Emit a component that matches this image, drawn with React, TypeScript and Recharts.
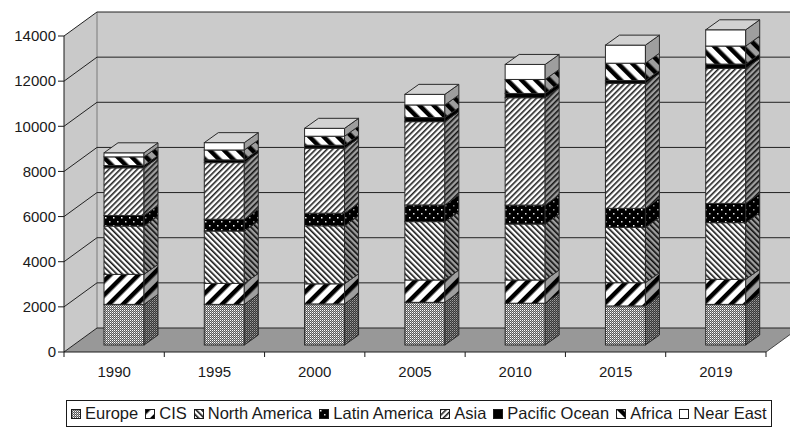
import React from 'react';
import { BarChart, Bar, XAxis, YAxis, CartesianGrid, Legend } from 'recharts';

// categories
const years = ['1990', '1995', '2000', '2005', '2010', '2015', '2019'];

// series values (stacked bottom to top)
const europe = [1800, 1800, 1820, 1890, 1850, 1730, 1800];
const cis = [1330, 930, 890, 990, 1030, 1030, 1110];
const northAmerica = [2140, 2320, 2570, 2585, 2480, 2455, 2510];
const latinAmerica = [470, 520, 560, 740, 840, 840, 855];
const asia = [2110, 2510, 2880, 3690, 4755, 5540, 5980];
const pacificOcean = [100, 120, 130, 180, 190, 120, 190];
const africa = [385, 440, 400, 560, 620, 770, 800];
const nearEast = [180, 325, 350, 470, 665, 800, 720];

const seriesNames = ['Europe', 'CIS', 'North America', 'Latin America', 'Asia', 'Pacific Ocean', 'Africa', 'Near East'];
const seriesValues = [europe, cis, northAmerica, latinAmerica, asia, pacificOcean, africa, nearEast];
const patternIds = ['pEurope', 'pCis', 'pNa', 'pLatam', 'pAsia', 'pPacific', 'pAfrica', 'pNearEast'];

const yTicks = [0, 2000, 4000, 6000, 8000, 10000, 12000, 14000];

const data = years.map((year, i) => {
  const row: Record<string, string | number> = { year };
  seriesNames.forEach((name, s) => {
    row[name] = seriesValues[s][i];
  });
  return row;
});

// geometry of the fake 3D box (chart is 790x430, plot area fixed by margins)
const W = 790;
const H = 430;
const PLOT_LEFT = 64;
const PLOT_TOP = 36;
const PLOT_RIGHT = 766;
const PLOT_BOTTOM = 352;
const BAND = (PLOT_RIGHT - PLOT_LEFT) / years.length;
const WALL_DX = 33; // depth offset of the back wall
const WALL_DY = -24;
const BAR_DX = 10; // bars stand a bit inside the floor
const BAR_DY = -7;
const SIDE_DX = 14; // bar depth
const SIDE_DY = -10;

const FONT = '"Liberation Sans", Arial, sans-serif';
const INK = '#1a1a1a';

const Patterns = () => (
  <defs>
    <pattern id="pEurope" width="2" height="2" patternUnits="userSpaceOnUse">
      <rect width="2" height="2" fill="#5a5a5a" />
      <rect x="0" y="0" width="1" height="1" fill="#fff" />
      <rect x="1" y="1" width="1" height="1" fill="#a8a8a8" />
    </pattern>
    <pattern id="pCis" width="10" height="10" patternUnits="userSpaceOnUse" patternTransform="rotate(45)">
      <rect width="10" height="10" fill="#fff" />
      <rect width="4.5" height="10" fill="#000" />
    </pattern>
    <pattern id="pNa" width="4" height="4" patternUnits="userSpaceOnUse" patternTransform="rotate(-45)">
      <rect width="4" height="4" fill="#fff" />
      <rect width="1.6" height="4" fill="#111" />
    </pattern>
    <pattern id="pLatam" width="8" height="8" patternUnits="userSpaceOnUse">
      <rect width="8" height="8" fill="#000" />
      <rect x="1" y="1" width="1.5" height="1.5" fill="#fff" />
      <rect x="5" y="5" width="1.5" height="1.5" fill="#ddd" />
    </pattern>
    <pattern id="pAsia" width="4" height="4" patternUnits="userSpaceOnUse" patternTransform="rotate(45)">
      <rect width="4" height="4" fill="#fff" />
      <rect width="1.6" height="4" fill="#222" />
    </pattern>
    <pattern id="pPacific" width="4" height="4" patternUnits="userSpaceOnUse">
      <rect width="4" height="4" fill="#000" />
    </pattern>
    <pattern id="pAfrica" width="10" height="10" patternUnits="userSpaceOnUse" patternTransform="rotate(-45)">
      <rect width="10" height="10" fill="#fff" />
      <rect width="4.5" height="10" fill="#000" />
    </pattern>
    <pattern id="pNearEast" width="4" height="4" patternUnits="userSpaceOnUse">
      <rect width="4" height="4" fill="#fff" />
    </pattern>
  </defs>
);

// one stacked segment drawn as a box: front face, side face, and the lid for the top series
const Box3D = (props: any) => {
  const { x, y, width, height, fillId, isTop } = props;
  if (!height) return null;
  const fx = x + BAR_DX;
  const fy = y + BAR_DY;
  const side = `${fx + width},${fy} ${fx + width + SIDE_DX},${fy + SIDE_DY} ${fx + width + SIDE_DX},${fy + height + SIDE_DY} ${fx + width},${fy + height}`;
  const lid = `${fx},${fy} ${fx + SIDE_DX},${fy + SIDE_DY} ${fx + width + SIDE_DX},${fy + SIDE_DY} ${fx + width},${fy}`;
  return (
    <g>
      <rect x={fx} y={fy} width={width} height={height} fill={`url(#${fillId})`} stroke="#2a2a2a" strokeWidth={1} />
      <polygon points={side} fill={`url(#${fillId})`} />
      <polygon points={side} fill="#000" fillOpacity={0.38} stroke="#2a2a2a" strokeWidth={1} />
      {isTop && <polygon points={lid} fill="#d2d2d2" stroke="#2a2a2a" strokeWidth={1} />}
    </g>
  );
};

// grid line: diagonal on the side wall, then across the back wall
const GridLine = (props: any) => {
  const { x1, y1, x2 } = props;
  return (
    <g key={props.key}>
      <line x1={x1} y1={y1} x2={x1 + WALL_DX} y2={y1 + WALL_DY} stroke="#222" strokeWidth={1} />
      <line x1={x1 + WALL_DX} y1={y1 + WALL_DY} x2={x2 + WALL_DX} y2={y1 + WALL_DY} stroke="#222" strokeWidth={1} />
    </g>
  );
};

const XTick = (props: any) => {
  const { x, y, payload, index } = props;
  return (
    <g>
      <text x={x} y={y} dy="0.71em" textAnchor="middle" fill={INK} fontSize={15} fontFamily={FONT}>
        {payload.value}
      </text>
      <line x1={x + BAND / 2} y1={PLOT_BOTTOM} x2={x + BAND / 2} y2={PLOT_BOTTOM + 5} stroke={INK} />
      {index === 0 && <line x1={x - BAND / 2} y1={PLOT_BOTTOM} x2={x - BAND / 2} y2={PLOT_BOTTOM + 5} stroke={INK} />}
    </g>
  );
};

const LegendBox = () => (
  <div
    style={{
      display: 'inline-flex',
      alignItems: 'center',
      height: 25,
      border: `1px solid ${INK}`,
      padding: '0 4px',
      fontFamily: FONT,
      fontSize: 16.5,
      color: INK,
      whiteSpace: 'nowrap',
      background: '#fff',
    }}
  >
    {seriesNames.map((name, i) => (
      <span key={name} style={{ display: 'inline-flex', alignItems: 'center', marginRight: i < seriesNames.length - 1 ? 7 : 0 }}>
        <svg width={10} height={10} style={{ marginRight: 4 }}>
          <rect x={0.5} y={0.5} width={9} height={9} fill={`url(#${patternIds[i]})`} stroke={INK} strokeWidth={1} />
        </svg>
        {name}
      </span>
    ))}
  </div>
);

// walls and floor behind the chart
const Walls = () => {
  const bx = PLOT_LEFT + WALL_DX;
  const by = PLOT_TOP + WALL_DY;
  const bb = PLOT_BOTTOM + WALL_DY;
  const br = PLOT_RIGHT + WALL_DX;
  return (
    <svg width={W} height={H} style={{ position: 'absolute', left: 0, top: 0 }}>
      <polygon points={`${PLOT_LEFT},${PLOT_TOP} ${bx},${by} ${bx},${bb} ${PLOT_LEFT},${PLOT_BOTTOM}`} fill="#c9c9c9" />
      <rect x={bx} y={by} width={br - bx} height={bb - by} fill="#cbcbcb" />
      <polygon points={`${PLOT_LEFT},${PLOT_BOTTOM} ${bx},${bb} ${br},${bb} ${PLOT_RIGHT},${PLOT_BOTTOM}`} fill="#989898" />
      <line x1={bx} y1={by} x2={bx} y2={bb} stroke="#7a7a7a" />
      <line x1={PLOT_RIGHT} y1={PLOT_BOTTOM} x2={br} y2={bb} stroke="#444" />
    </svg>
  );
};

const App: React.FC = () => {
  return (
    <div style={{ position: 'absolute', left: 0, top: 0, width: W, height: H, background: '#fff' }}>
      <Walls />
      <div style={{ position: 'absolute', left: 0, top: 0 }}>
        <BarChart width={W} height={H} data={data} margin={{ top: PLOT_TOP, right: W - PLOT_RIGHT, bottom: 3, left: 0 }} barSize={40}>
          <Patterns />
          <CartesianGrid vertical={false} horizontal={(p: any) => <GridLine {...p} />} />
          <XAxis
            dataKey="year"
            height={48}
            tickLine={false}
            tickSize={6}
            tickMargin={8}
            axisLine={{ stroke: INK }}
            tick={<XTick />}
            interval={0}
          />
          <YAxis
            width={PLOT_LEFT}
            domain={[0, 14000]}
            ticks={yTicks}
            interval={0}
            tickSize={6}
            tickMargin={2}
            axisLine={{ stroke: INK }}
            tickLine={{ stroke: INK }}
            tick={{ fill: INK, fontSize: 15, fontFamily: FONT }}
          />
          <Legend verticalAlign="bottom" content={() => <LegendBox />} wrapperStyle={{ left: 66, width: 'auto' }} />
          {seriesNames.map((name, i) => (
            <Bar
              key={name}
              dataKey={name}
              stackId="a"
              isAnimationActive={false}
              shape={(p: any) => <Box3D {...p} fillId={patternIds[i]} isTop={i === seriesNames.length - 1} />}
            />
          ))}
        </BarChart>
      </div>
    </div>
  );
};

export default App;
